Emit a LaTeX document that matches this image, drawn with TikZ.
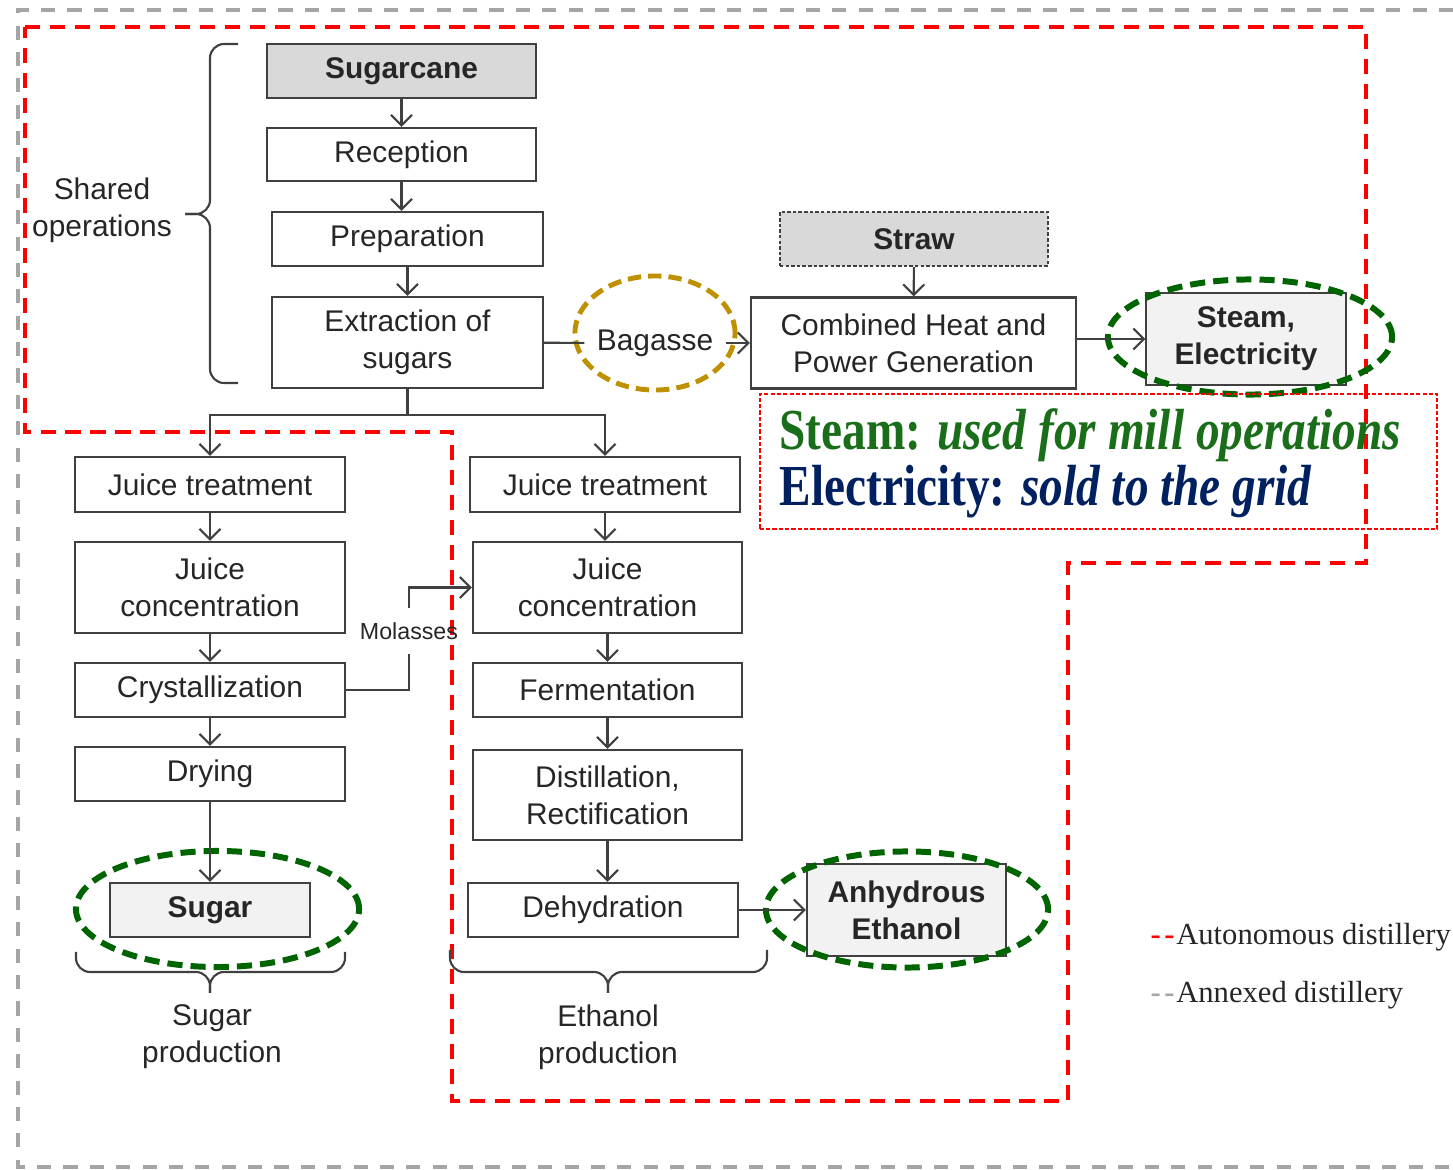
\documentclass[tikz,border=0pt]{standalone}
\usepackage{fontspec}
\setmainfont{Liberation Sans}
\newfontfamily\timesfont{Liberation Serif}
\usetikzlibrary{arrows.meta,positioning,shapes.geometric}

\definecolor{boxline}{RGB}{64,64,64}
\definecolor{darkfill}{RGB}{217,217,217}
\definecolor{lightfill}{RGB}{242,242,242}
\definecolor{ringgreen}{RGB}{0,100,0}
\definecolor{ringgold}{RGB}{191,144,0}
\definecolor{notegreen}{RGB}{26,110,26}
\definecolor{notenavy}{RGB}{0,32,96}
\definecolor{annexgray}{RGB}{165,165,165}

\begin{document}
\begin{tikzpicture}[x=0.01cm, y=-0.01cm,
process/.style={
		draw=boxline,
		line width=0.6pt,
		inner sep=0pt,
		align=center,
		text=black!85,
		font=\fontsize{8.5}{10.5}\selectfont,
		},
product/.style={process, fill=lightfill, font=\bfseries\fontsize{8.5}{10.5}\selectfont},
feed/.style={process, fill=darkfill, font=\bfseries\fontsize{8.5}{10.5}\selectfont},
flow/.style={draw=boxline, line width=0.6pt, -{Straight Barb[length=3pt,width=6pt]}},
link/.style={draw=boxline, line width=0.6pt},
bracket/.style={link, rounded corners=4pt},
ring/.style={draw=ringgreen, line width=1.7pt, dash pattern=on 4.3pt off 2.3pt},
goldring/.style={draw=ringgold, line width=1.4pt, dash pattern=on 3.8pt off 2pt},
autonomous/.style={draw=red, line width=1.1pt, dash pattern=on 4.3pt off 2.8pt},
annexed/.style={draw=annexgray, line width=0.9pt, dash pattern=on 4pt off 3.5pt},
notebox/.style={draw=red, line width=0.45pt, dash pattern=on 1.2pt off 0.6pt},
label/.style={align=center, text=black!85, font=\fontsize{8.5}{10.5}\selectfont},
legend/.style={text=black!85, font=\timesfont\fontsize{8.7}{10}\selectfont, inner sep=0pt}
]

\def \bw {2.7cm}   % width of the process boxes
\def \bh {0.54cm}  % one line box
\def \bhh {0.91cm} % two line box
\def \pw {1.99cm}  % product boxes

\useasboundingbox (0,0) rectangle (1453,1170);

% system boundaries
\draw[annexed] (1453,10) -- (18,10) -- (18,1167) -- (1453,1167);
\draw[autonomous] (25,27) -- (1366,27) -- (1366,563) -- (1068,563) -- (1068,1101)
  -- (452,1101) -- (452,432) -- (25,432) -- cycle;

% shared operations
\node[feed, minimum width=2.69cm, minimum height=\bh] (sugarcane) at (401.5,71) {Sugarcane};
\node[process, minimum width=2.69cm, minimum height=0.53cm] (reception) at (401.5,154.5) {Reception};
\node[process, minimum width=2.71cm, minimum height=\bh] (preparation) at (407.5,239) {Preparation};
\node[process, minimum width=2.71cm, minimum height=\bhh] (extract) at (407.5,342.5) {Extraction of\\sugars};

\foreach \a/\b in {sugarcane/reception, reception/preparation, preparation/extract}
  \draw[flow] (\a) -- (\a |- \b.north);

\foreach \e in {44,383}
  \draw[bracket] (238,\e) -| (210,214) -- (185,214);
\node[label] (shared) at (102,210) {Shared\\operations};

% cogeneration
\node[label] (bagasse) at (655,343) {Bagasse};
\draw[goldring] (655,333) ellipse [x radius=0.8cm, y radius=0.57cm];
\node[feed, minimum width=2.68cm, minimum height=\bh, dash pattern=on 1pt off 0.6pt] (straw) at (914,239) {Straw};
\node[process, minimum width=3.25cm, minimum height=\bhh] (chp) at (913.5,343) {Combined Heat and\\Power Generation};
\node[product, minimum width=\pw, minimum height=0.92cm] (steam) at (1246,339) {Steam,\\Electricity};
\draw[ring] (1250,337) ellipse [x radius=1.42cm, y radius=0.575cm];

\draw[link] (extract) -- (bagasse);
\draw[flow] (bagasse) -- (chp);
\draw[flow] (straw) -- (chp);
\draw[flow] (chp.east |- steam) -- (steam.west);

\node[notebox, minimum width=6.77cm, minimum height=1.35cm, anchor=north west] (note) at (759,393) {};
\node[anchor=base west, inner sep=0pt, text=notegreen, font=\timesfont\bfseries\fontsize{16.5}{19}\selectfont] (steamnote) at (779,450)
  {\scalebox{0.815}[1]{Steam: \itshape used for mill operations}};
\node[anchor=base west, inner sep=0pt, text=notenavy, font=\timesfont\bfseries\fontsize{16.5}{19}\selectfont] (elecnote) at (779,506)
  {\scalebox{0.815}[1]{Electricity: \itshape sold to the grid}};

% sugar production
\node[process, minimum width=\bw, minimum height=0.55cm] (treat1) at (210,484.5) {Juice treatment};
\node[process, minimum width=\bw, minimum height=\bhh] (conc1) at (210,587.5) {Juice\\concentration};
\node[process, minimum width=\bw, minimum height=\bh] (cryst) at (210,690) {Crystallization};
\node[process, minimum width=\bw, minimum height=\bh] (drying) at (210,774) {Drying};
\node[product, minimum width=\pw, minimum height=\bh] (sugar) at (210,910) {Sugar};
\draw[ring] (217.5,909) ellipse [x radius=1.415cm, y radius=0.58cm];

\foreach \a/\b in {treat1/conc1, conc1/cryst, cryst/drying, drying/sugar}
  \draw[flow] (\a) -- (\b);

\foreach \e in {76,345}
  \draw[bracket] (\e,952) |- (210,972) -- (210,993);
\node[label] (sugarlabel) at (212,1037) {Sugar\\production};

% ethanol production
\node[process, minimum width=\bw, minimum height=0.55cm] (treat2) at (605,484.5) {Juice treatment};
\node[process, minimum width=2.69cm, minimum height=\bhh] (conc2) at (607.5,587.5) {Juice\\concentration};
\node[process, minimum width=2.69cm, minimum height=\bh] (ferment) at (607.5,690) {Fermentation};
\node[process, minimum width=2.69cm, minimum height=0.9cm] (distil) at (607.5,795) {Distillation,\\Rectification};
\node[process, minimum width=\bw, minimum height=\bh] (dehyd) at (603,910) {Dehydration};
\node[product, minimum width=\pw, minimum height=0.92cm] (ethanol) at (906.5,910) {Anhydrous\\Ethanol};
\draw[ring] (907,909.5) ellipse [x radius=1.41cm, y radius=0.58cm];

\foreach \a/\b in {treat2/conc2, conc2/ferment, ferment/distil, distil/dehyd}
  \draw[flow] (\a) -- (\a |- \b.north);
\draw[flow] (dehyd) -- (ethanol);

\foreach \e in {450,767}
  \draw[bracket] (\e,950) |- (608,972) -- (608,993);
\node[label] (ethanollabel) at (608,1037) {Ethanol\\production};

% split of the juice
\draw[link] (extract) -- (extract |- 0,415) coordinate (split);
\draw[flow] (split) -| (treat1.north);
\draw[flow] (split) -| (treat2.north);

% molasses
\node[label, inner xsep=0pt, inner ysep=4pt, font=\fontsize{6.6}{8}\selectfont] (molasses) at (409,631) {Molasses};
\draw[link] (cryst.east) -| (molasses.south);
\draw[flow] (molasses.north) |- (conc2.west);

% legend
\node[legend, anchor=west] (autolegend) at (1150,937)
  {\textcolor{red}{\bfseries -\hspace{1pt}-\hspace{0.5pt}}Autonomous distillery};
\node[legend, anchor=west] (annexlegend) at (1150,995)
  {\textcolor{annexgray}{\bfseries -\hspace{1pt}-\hspace{0.5pt}}Annexed distillery};

\end{tikzpicture}
\end{document}
